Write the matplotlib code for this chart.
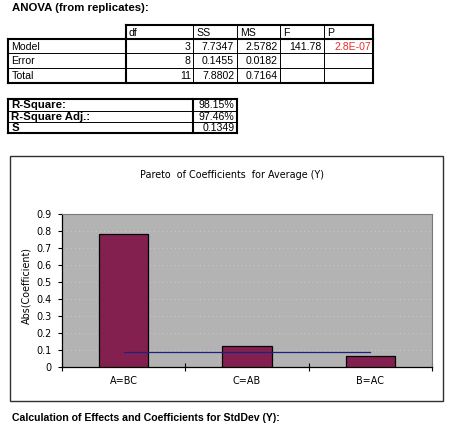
import matplotlib
matplotlib.use("Agg")
import matplotlib.pyplot as plt
from matplotlib.patches import Rectangle

plt.rcParams['font.family'] = ['Liberation Sans', 'DejaVu Sans']

# ---------------- data ----------------
anova_header = ["df", "SS", "MS", "F", "P"]
anova_rows = ["Model", "Error", "Total"]
anova_df = ["3", "8", "11"]
anova_ss = ["7.7347", "0.1455", "7.8802"]
anova_ms = ["2.5782", "0.0182", "0.7164"]
anova_f = ["141.78", "", ""]
anova_p = ["2.8E-07", "", ""]

fit_labels = ["R-Square:", "R-Square Adj.:", "S"]
fit_values = ["98.15%", "97.46%", "0.1349"]

categories = ["A=BC", "C=AB", "B=AC"]
coefficients = [0.786, 0.124, 0.065]
threshold = [0.088, 0.088, 0.088]
yticks = [0, 0.1, 0.2, 0.3, 0.4, 0.5, 0.6, 0.7, 0.8, 0.9]

W, H = 450, 426
fig = plt.figure(figsize=(W / 100, H / 100), dpi=100)
fig.patch.set_facecolor("white")

# overlay axes in pixel coordinates
ov = fig.add_axes([0, 0, 1, 1])
ov.set_xlim(0, W)
ov.set_ylim(H, 0)
ov.axis("off")

FS = 7.6
FSB = 8.2
THICK = 1.5
THIN = 0.7
CHART_FONT = ["DejaVu Sans"]
CFS = 6.9

def hline(y, x0, x1, lw):
    ov.plot([x0, x1], [y, y], color="black", lw=lw, solid_capstyle="projecting")

def vline(x, y0, y1, lw):
    ov.plot([x, x], [y0, y1], color="black", lw=lw, solid_capstyle="projecting")

ov.text(12, 8, "ANOVA (from replicates):", fontsize=FSB, fontweight="bold", va="center", ha="left")

# ANOVA table geometry
cols = [8.3, 125.7, 193.3, 236.7, 280, 324, 373.3]
rows_y = [25, 39.3, 53.3, 67.7, 83.3]

# header row borders
hline(rows_y[0], cols[1], cols[-1], THICK)
for x in cols[2:-1]:
    vline(x, rows_y[0], rows_y[1], THIN)
vline(cols[1], rows_y[0], rows_y[1], THICK)
vline(cols[-1], rows_y[0], rows_y[1], THICK)
# body
hline(rows_y[1], cols[0], cols[-1], THICK)
hline(rows_y[-1], cols[0], cols[-1], THICK)
for y in rows_y[2:-1]:
    hline(y, cols[0], cols[-1], THIN)
vline(cols[0], rows_y[1], rows_y[-1], THICK)
vline(cols[1], rows_y[1], rows_y[-1], THICK)
vline(cols[-1], rows_y[1], rows_y[-1], THICK)
for x in cols[2:-1]:
    vline(x, rows_y[1], rows_y[-1], THIN)

for i, h in enumerate(anova_header):
    ov.text(cols[i + 1] + 3, (rows_y[0] + rows_y[1]) / 2 + 0.5, h, fontsize=FS, ha="left", va="center")

body_cols = [anova_df, anova_ss, anova_ms, anova_f, anova_p]
for r, name in enumerate(anova_rows):
    yc = (rows_y[r + 1] + rows_y[r + 2]) / 2 + 0.5
    ov.text(cols[0] + 3, yc, name, fontsize=FS, ha="left", va="center")
    for c, colvals in enumerate(body_cols):
        color = "#e8302a" if c == 4 else "black"
        ov.text(cols[c + 2] - 2.5, yc, colvals[r], fontsize=FS, ha="right", va="center", color=color)

# fit table
fcols = [8.3, 193.3, 237]
frows = [99.3, 110.7, 121.7, 132.7]
hline(frows[0], fcols[0], fcols[-1], THICK)
hline(frows[-1], fcols[0], fcols[-1], THICK)
for y in frows[1:-1]:
    hline(y, fcols[0], fcols[-1], THIN)
vline(fcols[0], frows[0], frows[-1], THICK)
vline(fcols[1], frows[0], frows[-1], THICK)
vline(fcols[2], frows[0], frows[-1], THICK)
for r, (lab, val) in enumerate(zip(fit_labels, fit_values)):
    yc = (frows[r] + frows[r + 1]) / 2 + 0.5
    ov.text(fcols[0] + 3, yc, lab, fontsize=FSB, fontweight="bold", ha="left", va="center")
    ov.text(fcols[2] - 2.5, yc, val, fontsize=FS, ha="right", va="center")

# chart frame
ov.add_patch(Rectangle((10, 156), 433.3, 244.7, fill=False, edgecolor="#303030", lw=1.0))
ov.text(232.5, 175, "Pareto  of Coefficients  for Average (Y)", fontsize=CFS, family=CHART_FONT,
        ha="center", va="center")
ov.text(26, 286, "Abs(Coefficient)", fontsize=CFS, family=CHART_FONT, ha="center", va="center", rotation=90)

ov.text(12, 418, "Calculation of Effects and Coefficients for StdDev (Y):", fontsize=7.6,
        fontweight="bold", ha="left", va="center")

# chart axes
px_l, px_r, px_t, px_b = 62.3, 431.7, 214.3, 367.3
ax = fig.add_axes([px_l / W, 1 - px_b / H, (px_r - px_l) / W, (px_b - px_t) / H])
ax.set_facecolor("#b3b3b3")
x = list(range(len(categories)))
ax.bar(x, coefficients, width=0.4, color="#84204f", edgecolor="black", linewidth=0.9, zorder=3)
ax.plot(x, threshold, color="#1a237e", lw=0.9, zorder=4)
ax.set_xlim(-0.5, len(categories) - 0.5)
ax.set_ylim(0, 0.9)
ax.set_yticks(yticks)
ax.set_yticklabels(["0" if v == 0 else f"{v:.1f}" for v in yticks], fontsize=CFS, family=CHART_FONT)
ax.yaxis.grid(True, linestyle=(0, (1, 4)), color="#d0d0d0", lw=0.6, zorder=0)
ax.set_axisbelow(True)
ax.tick_params(axis="y", direction="out", length=3, width=0.8, pad=5)
ax.set_xticks([i - 0.5 for i in range(len(categories) + 1)])
ax.set_xticklabels([])
ax.set_xticks(x, minor=True)
ax.set_xticklabels(categories, minor=True, fontsize=CFS, family=CHART_FONT)
ax.tick_params(axis="x", which="major", direction="inout", length=6, width=0.8)
ax.tick_params(axis="x", which="minor", length=0, pad=6)
for s in ["top", "right"]:
    ax.spines[s].set_color("#7a7a7a")
    ax.spines[s].set_linewidth(0.8)
for s in ["left", "bottom"]:
    ax.spines[s].set_color("black")
    ax.spines[s].set_linewidth(0.9)

fig.savefig("out.png", dpi=100)
